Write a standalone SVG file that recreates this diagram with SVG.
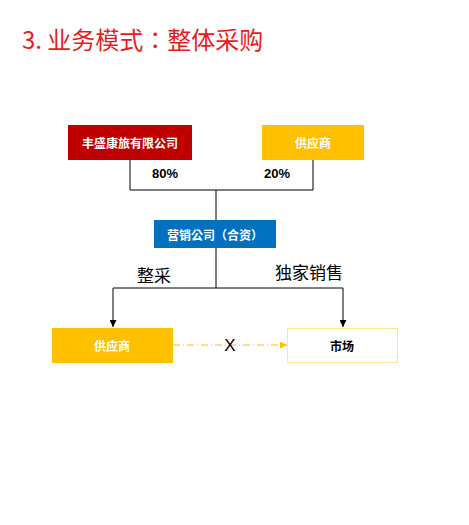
<svg xmlns="http://www.w3.org/2000/svg" width="469" height="525" viewBox="0 0 469 525">
<defs>
<style>
.w{font-family:"Noto Sans CJK SC","Liberation Sans",sans-serif;font-weight:bold;font-size:12px;fill:#fff;text-anchor:middle;dominant-baseline:central}
.b{font-family:"Noto Sans CJK SC","Liberation Sans",sans-serif;font-weight:bold;font-size:12px;fill:#000;text-anchor:middle;dominant-baseline:central}
.p{font-family:"Liberation Sans",sans-serif;font-weight:bold;font-size:13px;fill:#000;text-anchor:middle;dominant-baseline:central}
.l{font-family:"Noto Sans CJK SC","Liberation Sans",sans-serif;font-size:17px;fill:#000;text-anchor:middle;dominant-baseline:central}
.ln{stroke:#000;stroke-width:1;fill:none}
</style>
<marker id="ab" viewBox="0 0 8 8" refX="8" refY="4" markerWidth="7" markerHeight="7" orient="auto" markerUnits="userSpaceOnUse"><path d="M0,0L8,4L0,8z" fill="#000"/></marker>
<marker id="ay" viewBox="0 0 8 8" refX="8" refY="4" markerWidth="7" markerHeight="7" orient="auto" markerUnits="userSpaceOnUse"><path d="M0,0L8,4L0,8z" fill="#FFC000"/></marker>
</defs>
<rect width="469" height="525" fill="#fff"/>
<text x="22" y="49" font-family="'Noto Sans CJK TC','Liberation Sans',sans-serif" font-size="24" fill="#E81C1C">3. 业务模式：整体采购</text>
<g id="connectors">
<path class="ln" d="M130,160V190H313V160M216,190V220"/>
<path class="ln" d="M216,248V288"/>
<path class="ln" d="M113,288H343"/>
<path class="ln" d="M113,288V327" marker-end="url(#ab)"/>
<path class="ln" d="M343,288V327" marker-end="url(#ab)"/>
<path d="M173,345H287" stroke="#FFC000" stroke-width="1" stroke-dasharray="7,3,1,3" fill="none" marker-end="url(#ay)"/>
<text class="p" x="165" y="173">80%</text>
<text class="p" x="277" y="173">20%</text>
<text class="l" x="154" y="274">整采</text>
<text class="l" x="309" y="271">独家销售</text>
<text x="230" y="345" font-family="'Liberation Sans',sans-serif" font-size="17" fill="#000" text-anchor="middle" dominant-baseline="central">X</text>
</g>
<g id="fengsheng"><rect x="68" y="125" width="124" height="35" fill="#C00000"/><text class="w" x="130" y="142.5">丰盛康旅有限公司</text></g>
<g id="supplier-top"><rect x="262" y="125" width="102" height="35" fill="#FFC000"/><text class="w" x="313" y="142.5">供应商</text></g>
<g id="marketing"><rect x="154" y="220" width="122" height="28" fill="#0070C0"/><text class="w" x="215" y="234" style="font-family:'Noto Sans CJK TC','Liberation Sans',sans-serif">营销公司（合资）</text></g>
<g id="supplier-bottom"><rect x="52" y="328" width="121" height="35" fill="#FFC000"/><text class="w" x="112" y="345.5">供应商</text></g>
<g id="market"><rect x="287.5" y="328.5" width="110" height="34" fill="#fff" stroke="#FFE699" stroke-width="1"/><text class="b" x="342" y="345.5">市场</text></g>
</svg>
